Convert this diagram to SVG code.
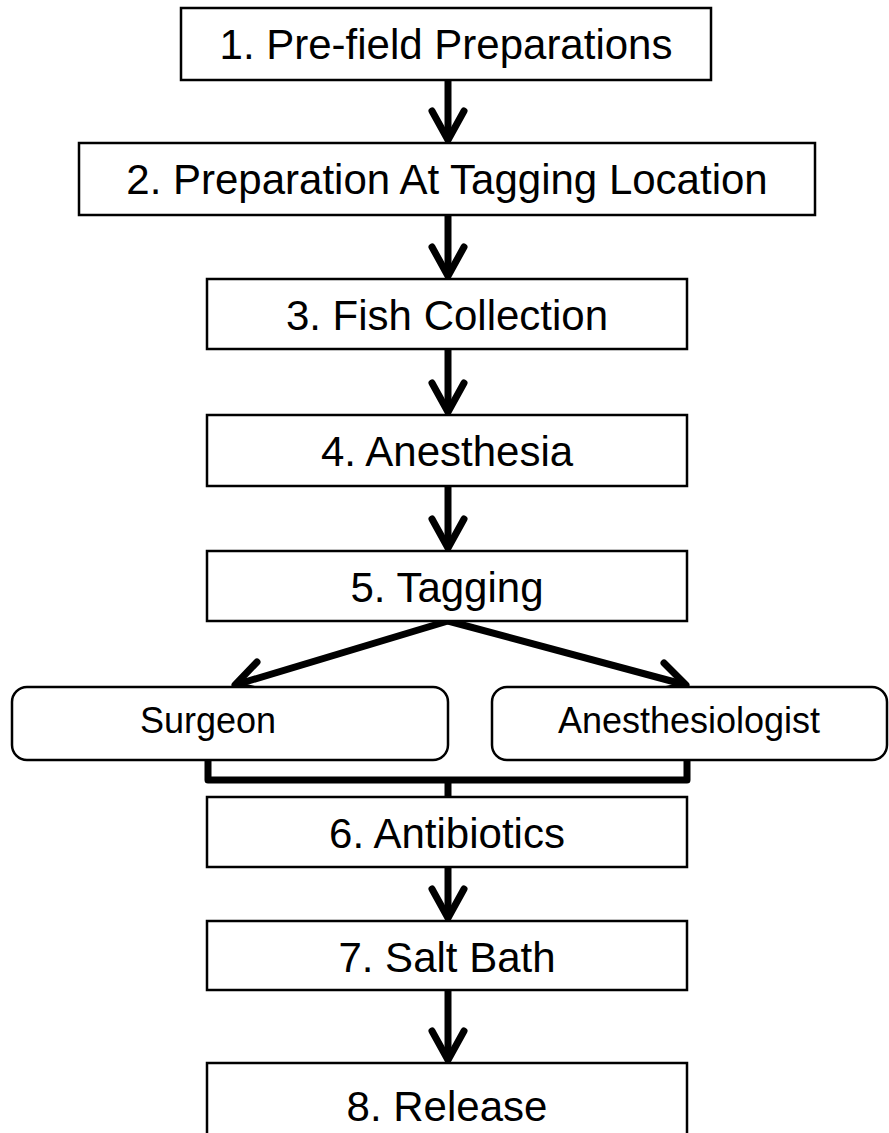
<svg xmlns="http://www.w3.org/2000/svg" width="889" height="1133" viewBox="0 0 889 1133">
<style>
.box{fill:#fff;stroke:#000;stroke-width:2.5}
.t{font-family:"Liberation Sans",Arial,sans-serif;font-size:42px;fill:#000;text-anchor:middle}
.s{font-family:"Liberation Sans",Arial,sans-serif;font-size:36px;fill:#000;text-anchor:middle}
.ln{fill:none;stroke:#000;stroke-width:7}
.hd{fill:none;stroke:#000;stroke-width:7;stroke-linecap:round;stroke-linejoin:round}
</style>
<rect width="889" height="1133" fill="#fff"/>
<g id="connectors">
<path class="ln" d="M448 80V140"/><polyline class="hd" points="432,111 448,140 464,111"/>
<path class="ln" d="M448 215V276"/><polyline class="hd" points="432,247 448,276 464,247"/>
<path class="ln" d="M448 349V412"/><polyline class="hd" points="432,383 448,412 464,383"/>
<path class="ln" d="M448 486V548"/><polyline class="hd" points="432,519 448,548 464,519"/>
<path class="ln" d="M448 621L235 685"/><polyline class="hd" points="257,662 235,685 265,692"/>
<path class="ln" d="M448 621L686 685"/><polyline class="hd" points="664,663 686,685 656,692"/>
<path class="ln" d="M208 760V780H687V760" stroke-linejoin="round"/>
<path class="ln" d="M448 780V797"/>
<path class="ln" d="M448 867V918"/><polyline class="hd" points="432,889 448,918 464,889"/>
<path class="ln" d="M448 990V1060"/><polyline class="hd" points="432,1031 448,1060 464,1031"/>
</g>
<g id="n1"><rect class="box" x="181" y="8" width="530" height="72"/><text class="t" x="446" y="59">1. Pre-field Preparations</text></g>
<g id="n2"><rect class="box" x="79" y="143" width="736" height="72"/><text class="t" x="447" y="194">2. Preparation At Tagging Location</text></g>
<g id="n3"><rect class="box" x="207" y="279" width="480" height="70"/><text class="t" x="447" y="330">3. Fish Collection</text></g>
<g id="n4"><rect class="box" x="207" y="415" width="480" height="71"/><text class="t" x="447" y="466">4. Anesthesia</text></g>
<g id="n5"><rect class="box" x="207" y="551" width="480" height="70"/><text class="t" x="447" y="602">5. Tagging</text></g>
<g id="surgeon"><rect class="box" x="12" y="687" width="436" height="73" rx="15"/><text class="s" x="208" y="733">Surgeon</text></g>
<g id="anesthesiologist"><rect class="box" x="492" y="687" width="395" height="73" rx="15"/><text class="s" x="689" y="733">Anesthesiologist</text></g>
<g id="n6"><rect class="box" x="207" y="797" width="480" height="70"/><text class="t" x="447" y="848">6. Antibiotics</text></g>
<g id="n7"><rect class="box" x="207" y="921" width="480" height="69"/><text class="t" x="447" y="972">7. Salt Bath</text></g>
<g id="n8"><rect class="box" x="207" y="1063" width="480" height="100"/><text class="t" x="447" y="1121">8. Release</text></g>
</svg>
